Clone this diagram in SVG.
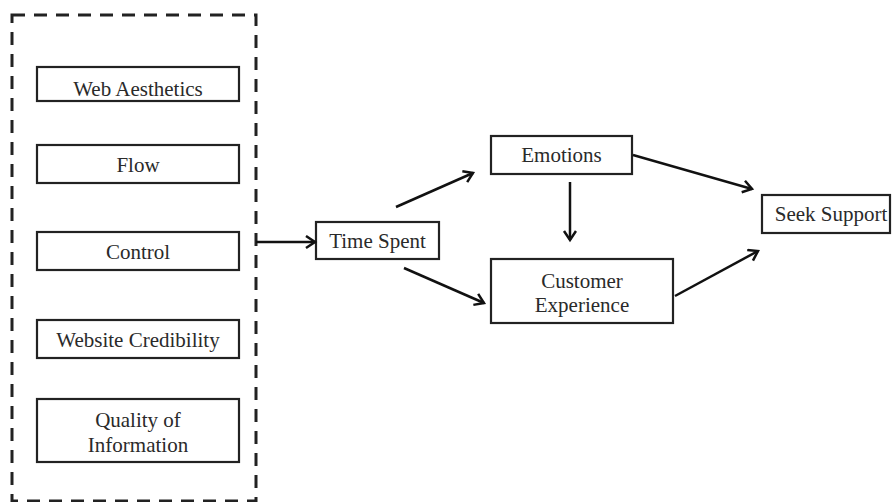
<svg xmlns="http://www.w3.org/2000/svg" width="893" height="502" viewBox="0 0 893 502">
<defs>
<style>
.box{fill:#fff;stroke:#222;stroke-width:2.2}
.t{font-family:"Liberation Serif","Times New Roman",serif;font-size:21px;fill:#2a2a2a;text-anchor:middle}
.c{stroke:#111;stroke-width:2.5;fill:none;marker-end:url(#ah)}
</style>
<marker id="ah" markerUnits="userSpaceOnUse" markerWidth="14" markerHeight="16" refX="11" refY="7" orient="auto">
<path d="M2,1 L11,7 L2,13" fill="none" stroke="#111" stroke-width="2.5"/>
</marker>
</defs>
<rect width="893" height="502" fill="#fff"/>
<g id="group">
<rect x="12" y="15" width="244" height="486" fill="none" stroke="#222" stroke-width="3" stroke-dasharray="13 9"/>
</g>
<g id="web-aesthetics"><rect class="box" x="37" y="67" width="202" height="34"/><text class="t" x="138" y="96">Web Aesthetics</text></g>
<g id="flow"><rect class="box" x="37" y="145" width="202" height="38"/><text class="t" x="138" y="172">Flow</text></g>
<g id="control"><rect class="box" x="37" y="232" width="202" height="38"/><text class="t" x="138" y="259">Control</text></g>
<g id="website-credibility"><rect class="box" x="37" y="320" width="202" height="38"/><text class="t" x="138" y="347">Website Credibility</text></g>
<g id="quality"><rect class="box" x="37" y="399" width="202" height="63"/><text class="t" x="138" y="427">Quality of</text><text class="t" x="138" y="452">Information</text></g>
<g id="time-spent"><rect class="box" x="316" y="222" width="123" height="37"/><text class="t" x="377.5" y="248">Time Spent</text></g>
<g id="emotions"><rect class="box" x="491" y="136" width="141" height="38"/><text class="t" x="561.5" y="162">Emotions</text></g>
<g id="customer-experience"><rect class="box" x="491" y="259" width="182" height="64"/><text class="t" x="582" y="288">Customer</text><text class="t" x="582" y="312">Experience</text></g>
<g id="seek-support"><rect class="box" x="762" y="195" width="128" height="38"/><text class="t" x="831" y="221">Seek Support</text></g>
<g id="connectors">
<line class="c" x1="256" y1="242" x2="315" y2="242"/>
<line class="c" x1="396" y1="207" x2="473" y2="173"/>
<line class="c" x1="404" y1="268" x2="484" y2="303"/>
<line class="c" x1="570" y1="182" x2="570" y2="240"/>
<line class="c" x1="633" y1="155" x2="752" y2="189"/>
<line class="c" x1="675" y1="296" x2="758" y2="251"/>
</g>
</svg>
